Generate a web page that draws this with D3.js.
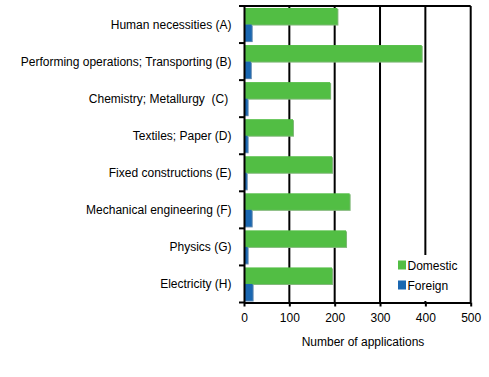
<!DOCTYPE html>
<html><head><meta charset="utf-8">
<script src="https://cdn.jsdelivr.net/npm/d3@7/dist/d3.min.js"></script>
<style>
html,body{margin:0;padding:0;background:#fff;}
svg{display:block;font-family:"Liberation Sans",Arial,sans-serif;}
</style></head>
<body>
<svg id="chart" width="489" height="377"></svg>
<script>
const categories = [
  "Human necessities (A)",
  "Performing operations; Transporting (B)",
  "Chemistry; Metallurgy  (C) ",
  "Textiles; Paper (D)",
  "Fixed constructions (E)",
  "Mechanical engineering (F)",
  "Physics (G)",
  "Electricity (H)"
];
const seriesNames = ["Domestic", "Foreign"];
const domestic = [206, 392, 190, 108, 194, 233, 225, 194];
const foreign = [17, 15, 8, 8, 6, 17, 8, 19];
const xTicks = [0, 100, 200, 300, 400, 500];
const colors = ["#52be44", "#1a67b1"];
const shadowColors = ["#7fb877", "#5d86ae"];

const svg = d3.select("#chart");
const pLeft = 244, pRight = 470.7, pTop = 6, pBottom = 302.5;

const x = d3.scaleLinear().domain([0, 500]).range([pLeft, pRight]);
const y = d3.scaleBand().domain(categories).range([pTop, pBottom]).padding(0);
const ySub = d3.scaleBand().domain(seriesNames).range([0, y.bandwidth()]).paddingInner(0).paddingOuter(0.12);

const rows = categories.map((c, i) => ({cat: c, vals: [domestic[i], foreign[i]]}));

// gridlines
svg.append("g").selectAll("line").data(xTicks.slice(1)).join("line")
  .attr("x1", d => x(d)).attr("x2", d => x(d))
  .attr("y1", pTop).attr("y2", pBottom)
  .attr("stroke", "#000").attr("stroke-width", 2);
// top border
svg.append("line").attr("x1", pLeft).attr("x2", pRight).attr("y1", pTop).attr("y2", pTop)
  .attr("stroke", "#000").attr("stroke-width", 2);

// bars
const g = svg.append("g");
rows.forEach(r => {
  const gg = g.append("g").attr("transform", `translate(0,${y(r.cat)})`);
  const data = seriesNames.map((s, j) => ({s, v: r.vals[j], j}));
  gg.selectAll("rect.sh").data(data).join("rect").attr("class", "sh")
    .attr("x", x(0) + 1).attr("y", d => ySub(d.s) + 1)
    .attr("width", d => x(d.v) - x(0)).attr("height", ySub.bandwidth())
    .attr("fill", d => shadowColors[d.j]);
  gg.selectAll("rect.b").data(data).join("rect").attr("class", "b")
    .attr("x", x(0)).attr("y", d => ySub(d.s))
    .attr("width", d => x(d.v) - x(0)).attr("height", ySub.bandwidth())
    .attr("fill", d => colors[d.j]);
});

// legend
const lg = svg.append("g");
lg.append("rect").attr("x", 395).attr("y", 255).attr("width", 74).attr("height", 46).attr("fill", "#fff");
seriesNames.forEach((s, i) => {
  lg.append("rect").attr("x", 398).attr("y", 260.5 + i * 20).attr("width", 8).attr("height", 9).attr("fill", colors[i]);
  lg.append("text").attr("x", 407.5).attr("y", 269.5 + i * 20).attr("font-size", 12).attr("fill", "#000").text(s);
});

// x axis
const xAxis = svg.append("g").attr("transform", `translate(0,${pBottom})`)
  .call(d3.axisBottom(x).tickValues(xTicks).tickSize(4).tickSizeOuter(0).tickPadding(7));
xAxis.select(".domain").attr("stroke", "#000").attr("stroke-width", 2);
xAxis.selectAll(".tick line").attr("stroke", "#000").attr("stroke-width", 2);
xAxis.selectAll("text").attr("font-size", 12).attr("fill", "#000").attr("font-family", "Liberation Sans, Arial, sans-serif");

// y axis
const yAxis = svg.append("g").attr("transform", `translate(${pLeft},0)`)
  .call(d3.axisLeft(y).tickValues([]).tickSizeOuter(0));
yAxis.select(".domain").attr("stroke", "#000").attr("stroke-width", 2);
// category boundary ticks
const bounds = categories.map(c => y(c)).concat([pBottom]);
svg.append("g").selectAll("line").data(bounds).join("line")
  .attr("x1", pLeft - 5).attr("x2", pLeft).attr("y1", d => d).attr("y2", d => d)
  .attr("stroke", "#000").attr("stroke-width", 2);
// category labels
svg.append("g").selectAll("text").data(categories).join("text")
  .attr("x", 231.5).attr("y", d => y(d) + y.bandwidth() / 2 + 4)
  .attr("text-anchor", "end").attr("font-size", 12).attr("fill", "#000")
  .style("white-space", "pre")
  .text(d => d);

// x axis title
svg.append("text").attr("x", 363).attr("y", 346).attr("text-anchor", "middle")
  .attr("font-size", 12).attr("fill", "#000").text("Number of applications");
</script>
</body></html>
